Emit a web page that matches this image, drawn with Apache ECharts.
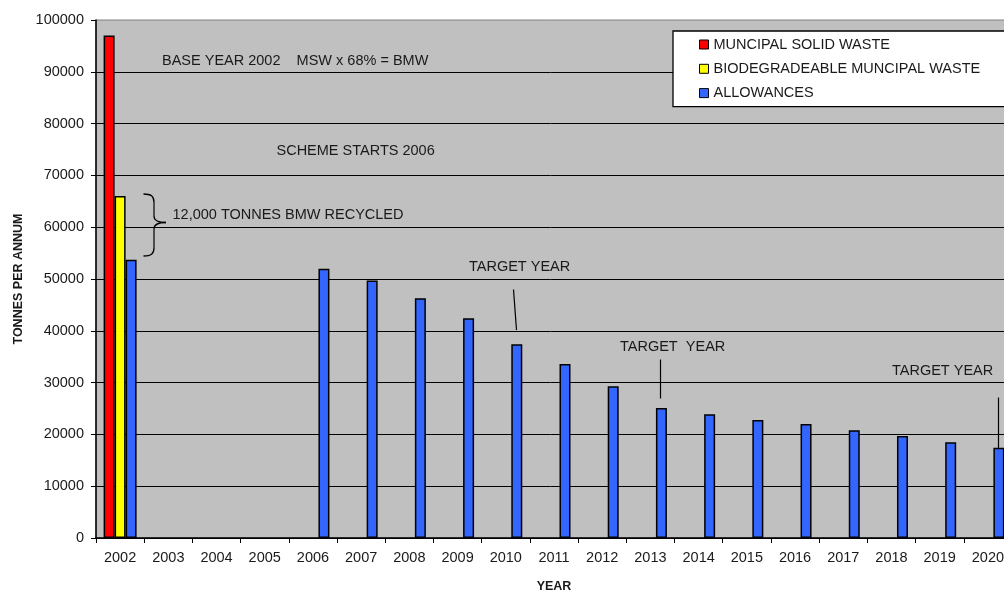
<!DOCTYPE html>
<html>
<head>
<meta charset="utf-8">
<title>Waste allowances</title>
<script src="https://cdn.jsdelivr.net/npm/echarts@6/dist/echarts.min.js"></script>
<style>
  html, body { margin: 0; padding: 0; background: #ffffff; overflow: hidden; }
  #chart { width: 1004px; height: 590px; }
</style>
</head>
<body>
<div id="chart"></div>
<script>
// Categories (years) and tonnage series
const years = ['2002','2003','2004','2005','2006','2007','2008','2009','2010','2011',
               '2012','2013','2014','2015','2016','2017','2018','2019','2020'];
const municipalSolidWaste = [97000, null, null, null, null, null, null, null, null, null,
                             null, null, null, null, null, null, null, null, null];
const biodegradableWaste  = [66000, null, null, null, null, null, null, null, null, null,
                             null, null, null, null, null, null, null, null, null];
const allowances = [53700, null, null, null, 52000, 49700, 46300, 42400, 37400, 33600,
                    29300, 25100, 23900, 22800, 22000, 20800, 19700, 18500, 17400];
const seriesNames = ['MUNCIPAL SOLID WASTE', 'BIODEGRADEABLE MUNCIPAL WASTE', 'ALLOWANCES'];
const yTicks = { min: 0, max: 100000, interval: 10000 };

const FONT = '"Liberation Sans", Arial, sans-serif';
const TXT = '#1a1a1a';

const chart = echarts.init(document.getElementById('chart'), null, { renderer: 'canvas' });

function barSeries(name, data, color) {
  return {
    name: name,
    type: 'bar',
    data: data,
    barWidth: 11,
    barGap: '0%',
    itemStyle: { color: color, borderColor: '#000000', borderWidth: 1.5 },
    emphasis: { disabled: true },
    animation: false
  };
}

// Free-floating annotations on the plot
function annotText(x, y, text) {
  return {
    type: 'text', x: x, y: y, silent: true, z: 50,
    style: { text: text, fill: TXT, font: '14.5px ' + FONT, verticalAlign: 'middle' }
  };
}
function annotLine(x1, y1, x2, y2) {
  return {
    type: 'line', silent: true, z: 50,
    shape: { x1: x1, y1: y1, x2: x2, y2: y2 },
    style: { stroke: '#000000', lineWidth: 1.2 }
  };
}
function curve(x1, y1, cpx1, cpy1, cpx2, cpy2, x2, y2) {
  return {
    type: 'bezierCurve', silent: true, z: 50,
    shape: { x1: x1, y1: y1, cpx1: cpx1, cpy1: cpy1, cpx2: cpx2, cpy2: cpy2, x2: x2, y2: y2 },
    style: { stroke: '#000000', lineWidth: 1.3, fill: null }
  };
}

// Curly brace beside the 2002 bars
const brace = [
  curve(143.5, 194, 151, 194, 154, 196, 154, 202),
  annotLine(154, 202, 154, 216),
  curve(154, 216, 154, 220, 158, 222.5, 166, 222.5),
  curve(166, 222.5, 158, 222.5, 154, 225, 154, 229),
  annotLine(154, 229, 154, 248),
  curve(154, 248, 154, 254, 151, 256, 143.5, 256)
];

const option = {
  backgroundColor: '#ffffff',
  animation: false,
  textStyle: { fontFamily: FONT },
  grid: {
    left: 96, top: 20, width: 916, height: 518,
    outerBoundsMode: 'none',
    show: true, backgroundColor: '#c0c0c0', borderColor: '#808080', borderWidth: 1,
    containLabel: false
  },
  legend: {
    orient: 'vertical',
    left: 673, top: 31,
    data: seriesNames,
    backgroundColor: '#ffffff',
    borderColor: '#000000',
    borderWidth: 1.3,
    padding: [6, 40, 6, 26],
    itemWidth: 9, itemHeight: 9, itemGap: 9.3,
    icon: 'rect',
    itemStyle: { borderColor: '#000000', borderWidth: 1 },
    textStyle: { color: TXT, fontSize: 14.5, fontFamily: FONT, lineHeight: 14 },
    selectedMode: false
  },
  xAxis: {
    type: 'category',
    data: years,
    boundaryGap: true,
    name: 'YEAR',
    nameLocation: 'middle',
    nameGap: 42,
    nameTextStyle: { color: TXT, fontSize: 12.5, fontWeight: 'bold', fontFamily: FONT },
    axisLine: { lineStyle: { color: '#000000', width: 1.5 } },
    axisTick: { show: true, length: 5, alignWithLabel: false, interval: 0, lineStyle: { color: '#000000' } },
    axisLabel: { color: TXT, fontSize: 14.5, margin: 12, interval: 0, fontFamily: FONT },
    splitLine: { show: false }
  },
  yAxis: {
    type: 'value',
    min: yTicks.min, max: yTicks.max, interval: yTicks.interval,
    name: 'TONNES PER ANNUM',
    nameLocation: 'middle',
    nameGap: 71,
    nameRotate: 90,
    nameTextStyle: { color: TXT, fontSize: 12.5, fontWeight: 'bold', fontFamily: FONT },
    axisLine: { show: true, lineStyle: { color: '#000000', width: 1.5 } },
    axisTick: { show: true, length: 5, lineStyle: { color: '#000000' } },
    axisLabel: { color: TXT, fontSize: 14.5, margin: 12, fontFamily: FONT,
                 formatter: function (v) { return String(v); } },
    splitLine: { show: true, showMaxLine: false, lineStyle: { color: '#000000', width: 1 } }
  },
  series: [
    barSeries(seriesNames[0], municipalSolidWaste, '#ff0000'),
    barSeries(seriesNames[1], biodegradableWaste, '#ffff00'),
    barSeries(seriesNames[2], allowances, '#3366ff')
  ],
  graphic: [
    annotText(162, 61, 'BASE YEAR 2002    MSW x 68% = BMW'),
    annotText(276.5, 151, 'SCHEME STARTS 2006'),
    annotText(172.5, 214.5, '12,000 TONNES BMW RECYCLED'),
    annotText(469, 267, 'TARGET YEAR'),
    annotLine(513.5, 289.5, 516.5, 330),
    annotText(620, 347, 'TARGET  YEAR'),
    annotLine(660.5, 359.5, 660.5, 398.5),
    annotText(892, 371, 'TARGET YEAR'),
    annotLine(998.5, 397.5, 998.5, 448)
  ].concat(brace)
};

chart.setOption(option);
</script>
</body>
</html>
